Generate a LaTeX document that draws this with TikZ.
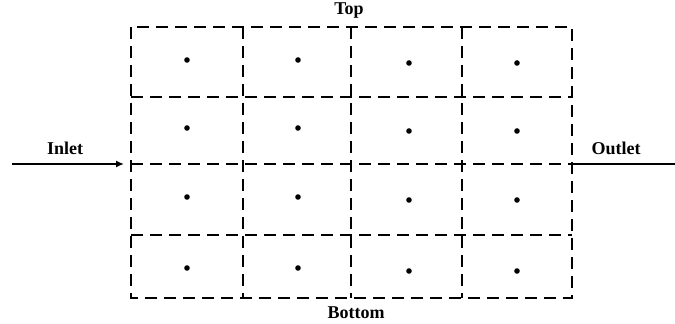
\documentclass[tikz,border=0pt]{standalone}
\usepackage{fontspec}
\setmainfont{Liberation Serif}
\usetikzlibrary{arrows.meta}
\begin{document}
\begin{tikzpicture}[x=0.5pt,y=-0.5pt,
cell/.style={draw,dash pattern=on 6pt off 3.5pt,line width=1.4pt},
dot/.style={circle,fill,inner sep=0pt,minimum size=2.8pt},
flow/.style={line width=1.4pt},
lbl/.style={font=\bfseries\fontsize{9}{10}\selectfont,inner sep=0pt,anchor=base}
]
\useasboundingbox (0,0) rectangle (675,324);
% grid
\draw[cell] (131,27) rectangle (572,298);
\foreach \y in {97,164,235}
  \draw[cell] (131,\y) -- (572,\y);
\foreach \x in {243,351,462}
  \draw[cell] (\x,27) -- (\x,298);
% cell centres
\foreach \x/\dy [count=\i] in {187/0,298/0,409/3,517/3}
  \foreach \y [count=\j] in {60,128,197,268}
    \node[dot] (d\j\i) at (\x,\y+\dy) {};
% labels
\node[lbl] (top) at (349,15) {Top};
\node[lbl] (bottom) at (356,319) {Bottom};
\node[lbl] (inlet) at (65,155) {Inlet};
\node[lbl] (outlet) at (616,155) {Outlet};
% flow in and out
\coordinate (inW) at (12,164);
\coordinate (inE) at (124,164);
\coordinate (outW) at (573,164);
\coordinate (outE) at (675,164);
\draw[flow,-{Latex[length=4pt,width=3.5pt]}] (inW) -- (inE);
\draw[flow] (outW) -- (outE);
\end{tikzpicture}
\end{document}
